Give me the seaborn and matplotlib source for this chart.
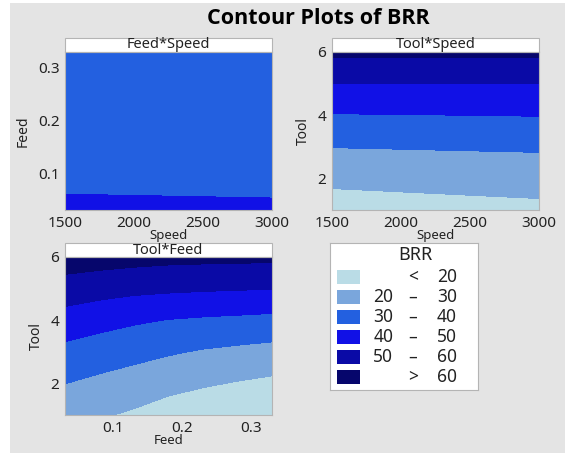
import matplotlib
matplotlib.use("Agg")
import matplotlib.pyplot as plt
import seaborn as sns
import numpy as np
from matplotlib.patches import Rectangle

# factor settings on the grids
speed = [1500, 3000]
feed = [0.03, 0.08, 0.13, 0.18, 0.23, 0.28, 0.33]
tool = [1, 2, 3, 4, 5, 6]

# BRR (rows = y variable, cols = x variable)
brr_feed_speed = [[41.5, 41.0], [39.0, 38.8], [37.0, 36.8], [35.5, 35.3],
                  [34.5, 34.3], [33.8, 33.6], [33.3, 33.1]]
brr_tool_speed = [[14.5, 17.5], [22.6, 24.4], [30.2, 31.2],
                  [39.5, 40.3], [50.0, 50.0], [62.2, 62.2]]
brr_tool_feed = [[23.4, 21.0, 18.6, 15.3, 13.1, 10.9, 9.0],
                 [30.1, 27.8, 25.6, 23.1, 21.1, 19.4, 17.9],
                 [37.3, 35.0, 33.0, 31.0, 29.2, 27.9, 26.7],
                 [45.8, 43.4, 41.3, 39.7, 38.7, 38.0, 37.2],
                 [55.5, 53.8, 52.4, 51.7, 51.1, 50.7, 50.2],
                 [65.5, 64.5, 63.6, 62.8, 62.5, 62.3, 62.1]]

brr_bins = [0, 20, 30, 40, 50, 60, 100]
bin_lo = ["", "20", "30", "40", "50", ""]
bin_sep = ["<", "–", "–", "–", "–", ">"]
bin_hi = ["20", "30", "40", "50", "60", "60"]

sns.set_theme(style="white")
plt.rcParams['font.family'] = ['Noto Sans', 'DejaVu Sans']
pal = sns.color_palette(["#badce6", "#7aa6dc", "#2360e0", "#1111e6", "#0a0aa6", "#06066c"])

bg = "#e4e4e4"
edge = "#b4b4b4"
ink = "#222222"
fig = plt.figure(figsize=(5.65, 4.53), dpi=100, facecolor="white")
fig.patches.append(Rectangle((10 / 565, 0), 1, 1 - 3 / 453, transform=fig.transFigure,
                             facecolor=bg, edgecolor="none", zorder=-10))

fig.text(318 / 565, 1 - 18 / 453, "Contour Plots of BRR", ha="center", va="center",
         fontsize=15.5, fontweight="bold", family=["Open Sans", "DejaVu Sans"], color="black")


def panel(rect, x, y, z, title, xlabel, ylabel, xlim, ylim, xticks, yticks, xfmt, yfmt):
    ax = fig.add_axes(rect)
    ax.contourf(x, y, np.array(z), levels=brr_bins, colors=pal)
    ax.set_xlim(*xlim)
    ax.set_ylim(*ylim)
    ax.set_xticks(xticks)
    ax.set_yticks(yticks)
    ax.set_xticklabels([xfmt.format(v) for v in xticks])
    ax.set_yticklabels([yfmt.format(v) for v in yticks])
    ax.tick_params(labelsize=11, length=3, width=0.8, color=edge, pad=1, labelcolor=ink)
    for s in ax.spines.values():
        s.set_color(edge)
        s.set_linewidth(0.8)
    ax.set_xlabel(xlabel, fontsize=9.5, labelpad=-1, color=ink)
    ax.set_ylabel(ylabel, fontsize=10, labelpad=5, color=ink)
    # header strip
    h = 14 / 158
    ax.add_patch(Rectangle((0, 1), 1, h, transform=ax.transAxes, clip_on=False,
                           facecolor="white", edgecolor=edge, linewidth=0.8))
    ax.text(0.5, 1 + h / 2, title, transform=ax.transAxes, ha="center", va="center",
            fontsize=10.5, color=ink)
    return ax


w, h = 207 / 565, 158 / 453
panel([65 / 565, 1 - 210 / 453, w, h], speed, feed, brr_feed_speed, "Feed*Speed",
      "Speed", "Feed", (1500, 3000), (0.03, 0.33), [1500, 2000, 2500, 3000], [0.1, 0.2, 0.3],
      "{:d}", "{:.1f}")
panel([332 / 565, 1 - 210 / 453, w, h], speed, tool, brr_tool_speed, "Tool*Speed",
      "Speed", "Tool", (1500, 3000), (1, 6), [1500, 2000, 2500, 3000], [2, 4, 6],
      "{:d}", "{:d}")
panel([65 / 565, 1 - 415 / 453, w, h], feed, tool, brr_tool_feed, "Tool*Feed",
      "Feed", "Tool", (0.03, 0.33), (1, 6), [0.1, 0.2, 0.3], [2, 4, 6],
      "{:.1f}", "{:d}")

# legend box
lg = fig.add_axes([330 / 565, 1 - 390 / 453, 148 / 565, 147 / 453])
lg.set_facecolor("white")
lg.set_xticks([])
lg.set_yticks([])
lg.set_xlim(0, 1)
lg.set_ylim(0, 1)
for s in lg.spines.values():
    s.set_color(edge)
    s.set_linewidth(0.8)
lg.text(0.574, 0.918, "BRR", ha="center", va="center", fontsize=13, color=ink)
for i in range(len(pal)):
    yc = 0.767 - i * 20 / 147
    lg.add_patch(Rectangle((0.045, yc - 0.0476), 0.158, 0.095, facecolor=pal[i], edgecolor="none"))
    lg.text(0.428, yc, bin_lo[i], ha="right", va="center", fontsize=12.5, color=ink)
    lg.text(0.56, yc, bin_sep[i], ha="center", va="center", fontsize=12.5, color=ink)
    lg.text(0.856, yc, bin_hi[i], ha="right", va="center", fontsize=12.5, color=ink)

fig.savefig("out.png", dpi=100, facecolor=fig.get_facecolor())
